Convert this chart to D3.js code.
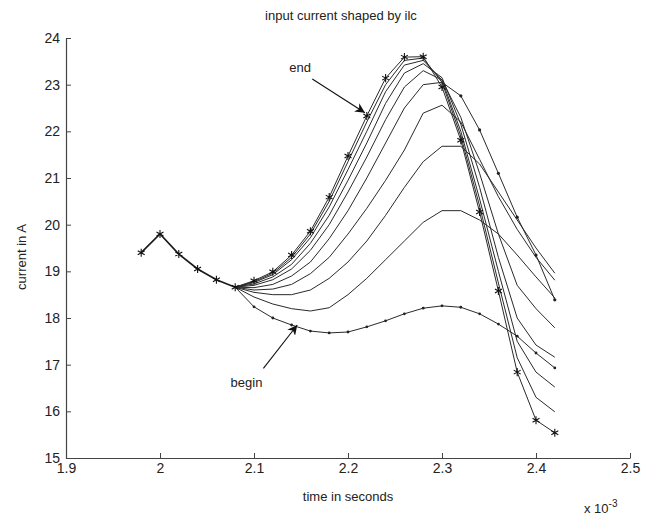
<!DOCTYPE html>
<html>
<head>
<meta charset="utf-8">
<script src="https://cdn.jsdelivr.net/npm/d3@7/dist/d3.min.js"></script>
<style>
  body { margin: 0; background: #fff; }
  svg { overflow: visible; }
  text { font-family: "Liberation Sans", Arial, sans-serif; }
</style>
</head>
<body>
<div id="canvas"></div>
<script>
// time axis in units of 1e-3 s
var xTicks = [1.9, 2.0, 2.1, 2.2, 2.3, 2.4, 2.5];
var yTicks = [15, 16, 17, 18, 19, 20, 21, 22, 23, 24];

// common start, 1.98 .. 2.06
var startTime = [1.98, 2.00, 2.02, 2.04, 2.06];
var startCurrent = [19.4, 19.8, 19.37, 19.05, 18.82];

// each iteration, 2.08 .. 2.42
var iterTime = [2.08, 2.10, 2.12, 2.14, 2.16, 2.18, 2.20, 2.22, 2.24, 2.26, 2.28, 2.30, 2.32, 2.34, 2.36, 2.38, 2.40, 2.42];
var iterBegin = [18.66, 18.24, 18.0, 17.85, 17.72, 17.68, 17.70, 17.81, 17.94, 18.09, 18.21, 18.26, 18.23, 18.09, 17.87, 17.61, 17.25, 16.93];
var iter2 = [18.66, 18.45, 18.3, 18.2, 18.15, 18.22, 18.5, 18.85, 19.25, 19.65, 20.05, 20.3, 20.3, 20.1, 19.8, 19.35, 18.88, 18.43];
var iter3 = [18.66, 18.55, 18.5, 18.5, 18.6, 18.85, 19.2, 19.65, 20.2, 20.8, 21.35, 21.68, 21.68, 21.3, 20.7, 20.1, 19.5, 18.96];
var iter4 = [18.66, 18.6, 18.62, 18.72, 18.95, 19.3, 19.8, 20.35, 20.95, 21.6, 22.39, 22.56, 22.2, 21.4, 20.6, 19.9, 19.3, 18.81];
var iter5 = [18.66, 18.65, 18.72, 18.9, 19.2, 19.7, 20.3, 21.0, 21.75, 22.5, 23.0, 23.05, 22.76, 22.03, 21.1, 20.16, 19.35, 18.39];
var iter6 = [18.66, 18.7, 18.82, 19.05, 19.45, 20.0, 20.7, 21.45, 22.25, 22.95, 23.3, 23.1, 22.3, 21.1, 19.8, 18.7, 18.2, 17.79];
var iter7 = [18.66, 18.73, 18.88, 19.15, 19.6, 20.2, 20.95, 21.75, 22.6, 23.25, 23.45, 23.15, 22.15, 20.8, 19.3, 18.0, 17.42, 17.16];
var iter8 = [18.66, 18.76, 18.93, 19.25, 19.72, 20.38, 21.18, 22.0, 22.85, 23.42, 23.52, 23.1, 22.0, 20.55, 19.0, 17.5, 16.84, 16.52];
var iter9 = [18.66, 18.78, 18.96, 19.3, 19.8, 20.5, 21.35, 22.2, 23.0, 23.52, 23.57, 23.05, 21.9, 20.4, 18.75, 17.15, 16.3, 15.99];
var iterEnd = [18.66, 18.8, 18.99, 19.35, 19.86, 20.59, 21.47, 22.33, 23.14, 23.59, 23.6, 22.95, 21.81, 20.27, 18.58, 16.84, 15.81, 15.54];

var width = 647, height = 518;
var margin = { left: 66, top: 38, right: 17, bottom: 60 };
var innerWidth = width - margin.left - margin.right;
var innerHeight = height - margin.top - margin.bottom;

var x = d3.scaleLinear().domain([1.9, 2.5]).range([0, innerWidth]);
var y = d3.scaleLinear().domain([15, 24]).range([innerHeight, 0]);

var svg = d3.select('#canvas').append('svg')
  .attr('width', width)
  .attr('height', height);

var g = svg.append('g')
  .attr('transform', 'translate(' + margin.left + ',' + margin.top + ')');

function pairs(ts, vs) { return ts.map(function (t, i) { return [t, vs[i]]; }); }

var line = d3.line()
  .x(function (d) { return x(d[0]); })
  .y(function (d) { return y(d[1]); });

// lines
var iterations = [iterBegin, iter2, iter3, iter4, iter5, iter6, iter7, iter8, iter9, iterEnd];
iterations.forEach(function (vals) {
  g.append('path')
    .attr('d', line(pairs(iterTime, vals)))
    .attr('fill', 'none')
    .attr('stroke', '#2a2a2a')
    .attr('stroke-width', 1);
});
var startPts = pairs(startTime.concat([iterTime[0]]), startCurrent.concat([iterEnd[0]]));
g.append('path')
  .attr('d', line(startPts))
  .attr('fill', 'none')
  .attr('stroke', '#1a1a1a')
  .attr('stroke-width', 1.6);

// dot markers on the first iteration and on the tail of iteration 5
g.selectAll('circle.begin')
  .data(pairs(iterTime, iterBegin).slice(1))
  .enter().append('circle')
  .attr('class', 'begin')
  .attr('cx', function (d) { return x(d[0]); })
  .attr('cy', function (d) { return y(d[1]); })
  .attr('r', 1.4)
  .attr('fill', '#222');
g.selectAll('circle.iter5')
  .data(pairs(iterTime, iter5).slice(12))
  .enter().append('circle')
  .attr('class', 'iter5')
  .attr('cx', function (d) { return x(d[0]); })
  .attr('cy', function (d) { return y(d[1]); })
  .attr('r', 1.6)
  .attr('fill', '#222');

// star markers on the final iteration
var star = d3.symbol().type(d3.symbolAsterisk).size(45);
g.selectAll('path.star')
  .data(pairs(startTime, startCurrent).concat(pairs(iterTime, iterEnd)))
  .enter().append('path')
  .attr('class', 'star')
  .attr('d', star)
  .attr('transform', function (d) { return 'translate(' + x(d[0]) + ',' + y(d[1]) + ')'; })
  .attr('fill', 'none')
  .attr('stroke', '#111')
  .attr('stroke-width', 1.1);

// axes, ticks pointing in
var xAxis = g.append('g')
  .attr('transform', 'translate(0,' + innerHeight + ')')
  .call(d3.axisBottom(x).tickValues(xTicks).tickSizeInner(-5).tickSizeOuter(0).tickPadding(5)
    .tickFormat(function (d) { return d3.format('')(+d.toFixed(1)); }));
var yAxis = g.append('g')
  .call(d3.axisLeft(y).tickValues(yTicks).tickSizeInner(-5).tickSizeOuter(0).tickPadding(6));
[xAxis, yAxis].forEach(function (a) {
  a.select('.domain').attr('stroke', '#444').attr('stroke-width', 1.2);
  a.selectAll('.tick line').attr('stroke', '#444');
  a.selectAll('.tick text').attr('fill', '#222').attr('font-size', 14).style('font-size', '14px');
});

// titles
svg.append('text')
  .attr('x', 341)
  .attr('y', 20)
  .attr('text-anchor', 'middle')
  .style('font-size', '13px')
  .attr('fill', '#222')
  .text('input current shaped by ilc');
svg.append('text')
  .attr('x', margin.left + x(2.2))
  .attr('y', 501)
  .attr('text-anchor', 'middle')
  .style('font-size', '13px')
  .attr('fill', '#222')
  .text('time in seconds');
svg.append('text')
  .attr('transform', 'translate(26,' + 257 + ') rotate(-90)')
  .attr('text-anchor', 'middle')
  .style('font-size', '13px')
  .attr('fill', '#222')
  .text('current in A');
var expo = svg.append('text')
  .attr('x', margin.left + x(2.5) - 46)
  .attr('y', 513)
  .style('font-size', '13px')
  .attr('fill', '#222');
expo.append('tspan').text('x 10');
expo.append('tspan').attr('dy', -6).style('font-size', '10px').text('-3');

// annotations
svg.append('defs').append('marker')
  .attr('id', 'head')
  .attr('viewBox', '0 0 10 10')
  .attr('refX', 10).attr('refY', 5)
  .attr('markerWidth', 9).attr('markerHeight', 9)
  .attr('orient', 'auto')
  .append('path')
  .attr('d', 'M0,0 L10,5 L0,10 L3,5 Z')
  .attr('fill', '#111');

function annotate(label, tx, ty, fromX, fromY, toX, toY) {
  g.append('text')
    .attr('x', x(tx)).attr('y', y(ty))
    .attr('text-anchor', 'middle')
    .style('font-size', '13px')
    .attr('fill', '#222')
    .text(label);
  g.append('line')
    .attr('x1', x(fromX)).attr('y1', y(fromY))
    .attr('x2', x(toX)).attr('y2', y(toY))
    .attr('stroke', '#111')
    .attr('stroke-width', 1.1)
    .attr('marker-end', 'url(#head)');
}
annotate('end', 2.149, 23.27, 2.162, 23.12, 2.218, 22.4);
annotate('begin', 2.092, 16.53, 2.11, 16.92, 2.146, 17.85);
</script>
</body>
</html>
